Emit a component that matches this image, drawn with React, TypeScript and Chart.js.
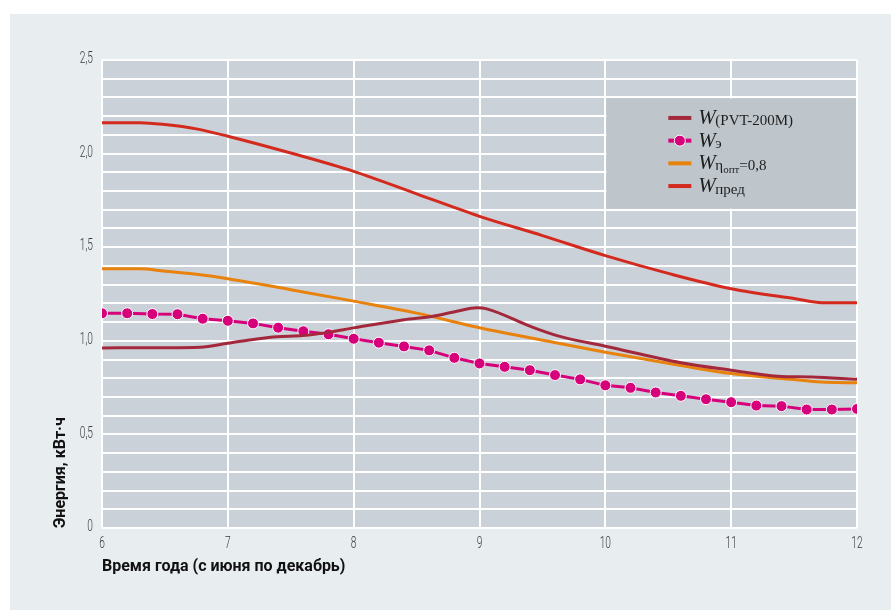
import React, { useEffect, useRef } from "react";
import { Chart, registerables } from "chart.js";

Chart.register(...registerables);

// ---- Data (months: 6 = June ... 12 = December), values in kWh ----
const wEMonths = [6, 6.2, 6.4, 6.6, 6.8, 7, 7.2, 7.4, 7.6, 7.8, 8, 8.2, 8.4, 8.6, 8.8, 9, 9.2, 9.4, 9.6, 9.8, 10, 10.2, 10.4, 10.6, 10.8, 11, 11.2, 11.4, 11.6, 11.8, 12];
const wEValues = [1.147, 1.147, 1.143, 1.142, 1.118, 1.107, 1.093, 1.070, 1.051, 1.035, 1.011, 0.990, 0.970, 0.949, 0.909, 0.879, 0.861, 0.843, 0.817, 0.794, 0.762, 0.749, 0.724, 0.706, 0.688, 0.672, 0.654, 0.651, 0.633, 0.633, 0.636];

const wPredMonths = [6, 6.3, 6.5, 6.75, 7, 7.5, 8, 8.5, 9, 9.5, 10, 10.5, 11, 11.5, 11.75, 12];
const wPredValues = [2.165, 2.165, 2.155, 2.132, 2.093, 2.003, 1.905, 1.785, 1.665, 1.562, 1.455, 1.36, 1.278, 1.226, 1.203, 1.203];

const wOptMonths = [6, 6.3, 6.5, 6.75, 7, 7.5, 8, 8.5, 9, 9.4, 10, 10.6, 11, 11.5, 11.75, 12];
const wOptValues = [1.385, 1.385, 1.372, 1.355, 1.332, 1.273, 1.212, 1.148, 1.07, 1.016, 0.939, 0.868, 0.825, 0.793, 0.778, 0.776];

const wPvtMonths = [6, 6.5, 6.78, 7, 7.23, 7.39, 7.6, 7.8, 8, 8.4, 8.63, 8.82, 8.98, 9.05, 9.4, 9.63, 10, 10.6, 11, 11.37, 11.64, 12];
const wPvtValues = [0.962, 0.963, 0.966, 0.987, 1.01, 1.022, 1.028, 1.045, 1.069, 1.113, 1.131, 1.158, 1.176, 1.172, 1.078, 1.025, 0.971, 0.883, 0.843, 0.811, 0.806, 0.795];

const xTickValues = [6, 7, 8, 9, 10, 11, 12];
const xTickLabels = ["6", "7", "8", "9", "10", "11", "12"];
const yTickValues = [0, 0.5, 1, 1.5, 2, 2.5];
const yTickLabels = ["0", "0,5", "1,0", "1,5", "2,0", "2,5"];

const xTitle = "Время года (с июня по декабрь)";
const yTitle = "Энергия, кВт·ч";

const COL_PVT = "#a3283b";
const COL_E = "#d6007a";
const COL_OPT = "#e8820c";
const COL_PRED = "#d42a1e";

const toPoints = (xs: number[], ys: number[]) => xs.map((x, i) => ({ x, y: ys[i] }));

const TICK_FONT = "Roboto, 'Noto Sans', sans-serif";
const TITLE_FONT = "Roboto, 'Noto Sans', sans-serif";
const SERIF = "'Liberation Serif', 'DejaVu Serif', serif";

// condensed tick label drawing (narrow face imitation)
const drawNarrow = (ctx: any, text: string, x: number, y: number, align: string) => {
  ctx.save();
  ctx.translate(x, y);
  ctx.scale(0.6, 1);
  ctx.textAlign = align;
  ctx.textBaseline = "middle";
  ctx.fillText(text, 0, 0);
  ctx.restore();
};

const bgPlugin = {
  id: "bgAndLegend",
  beforeDraw(chart: any) {
    const { ctx, chartArea: a } = chart;
    ctx.save();
    ctx.fillStyle = "#cad1d8";
    ctx.fillRect(a.left, a.top, a.right - a.left, a.bottom - a.top);
    ctx.restore();
  },
  beforeDatasetsDraw(chart: any) {
    const { ctx, scales } = chart;
    const L = scales.x.getPixelForValue(10) + 1;
    const R = scales.x.getPixelForValue(12) - 1;
    const T = scales.y.getPixelForValue(2.3) + 1;
    const B = scales.y.getPixelForValue(1.7) - 1;
    ctx.save();
    ctx.fillStyle = "#bec6cc";
    ctx.fillRect(L, T, R - L, B - T);
    ctx.restore();
  },
  afterDraw(chart: any) {
    const { ctx, scales, chartArea: a } = chart;
    // tick labels
    ctx.save();
    ctx.fillStyle = "#3c3c3c";
    ctx.font = `300 17px ${TICK_FONT}`;
    yTickValues.forEach((v, i) => {
      drawNarrow(ctx, yTickLabels[i], a.left - 9, scales.y.getPixelForValue(v) - 1, "right");
    });
    xTickValues.forEach((v, i) => {
      drawNarrow(ctx, xTickLabels[i], scales.x.getPixelForValue(v), a.bottom + 16, "center");
    });
    ctx.restore();

    // legend
    const L = scales.x.getPixelForValue(10) + 1;
    const T = scales.y.getPixelForValue(2.3) + 1;
    const rows = [T + 19.5, T + 42.2, T + 64.9, T + 87.6];
    const colors = [COL_PVT, COL_E, COL_OPT, COL_PRED];
    const lx0 = L + 62;
    const lx1 = L + 85;
    const wx = L + 92;
    const sx = L + 109;
    ctx.save();
    rows.forEach((cy, i) => {
      ctx.strokeStyle = colors[i];
      ctx.lineWidth = 4;
      ctx.beginPath();
      ctx.moveTo(lx0, cy);
      ctx.lineTo(lx1, cy);
      ctx.stroke();
      if (i === 1) {
        ctx.beginPath();
        ctx.arc((lx0 + lx1) / 2, cy, 5.5, 0, Math.PI * 2);
        ctx.fillStyle = COL_E;
        ctx.fill();
        ctx.lineWidth = 1;
        ctx.strokeStyle = "#ffffff";
        ctx.stroke();
      }
      ctx.fillStyle = "#1e1e1e";
      ctx.textBaseline = "alphabetic";
      ctx.textAlign = "left";
      ctx.font = `italic 21px ${SERIF}`;
      ctx.fillText("W", wx, cy + 6);
      ctx.font = `15px ${SERIF}`;
      if (i === 0) {
        ctx.fillText("(PVT-200M)", sx, cy + 7.5);
      } else if (i === 1) {
        ctx.fillText("э", sx, cy + 7.5);
      } else if (i === 2) {
        ctx.fillText("η", sx, cy + 7);
        const ew = ctx.measureText("η").width;
        ctx.font = `11px ${SERIF}`;
        ctx.fillText("опт", sx + ew, cy + 10);
        const ow = ctx.measureText("опт").width;
        ctx.font = `15px ${SERIF}`;
        ctx.fillText("=0,8", sx + ew + ow, cy + 7);
      } else {
        ctx.fillText("пред", sx, cy + 7.5);
      }
    });
    ctx.restore();
  },
};

export default function App() {
  const ref = useRef<HTMLCanvasElement | null>(null);

  useEffect(() => {
    if (!ref.current) return;
    const chart = new Chart(ref.current, {
      type: "line",
      data: {
        datasets: [
          {
            label: "W(PVT-200M)",
            data: toPoints(wPvtMonths, wPvtValues),
            borderColor: COL_PVT,
            borderWidth: 3,
            pointRadius: 0,
            cubicInterpolationMode: "monotone",
          },
          {
            label: "Wпред",
            data: toPoints(wPredMonths, wPredValues),
            borderColor: COL_PRED,
            borderWidth: 3,
            pointRadius: 0,
            cubicInterpolationMode: "monotone",
          },
          {
            label: "Wηопт=0,8",
            data: toPoints(wOptMonths, wOptValues),
            borderColor: COL_OPT,
            borderWidth: 3,
            pointRadius: 0,
            cubicInterpolationMode: "monotone",
          },
          {
            label: "Wэ",
            data: toPoints(wEMonths, wEValues),
            borderColor: COL_E,
            borderWidth: 3,
            pointRadius: 5.5,
            pointBackgroundColor: COL_E,
            pointBorderColor: "#ffffff",
            pointBorderWidth: 1,
            tension: 0,
          },
        ],
      } as any,
      options: {
        responsive: false,
        animation: false,
        layout: { padding: { top: 46, right: 34, left: 0, bottom: 0 } },
        plugins: { legend: { display: false }, tooltip: { enabled: false } },
        scales: {
          x: {
            type: "linear",
            min: 6,
            max: 12,
            afterFit: (s: any) => {
              s.height = 82;
            },
            afterBuildTicks: (s: any) => {
              s.ticks = xTickValues.map((v) => ({ value: v }));
            },
            ticks: { display: false },
            grid: { color: "#ffffff", lineWidth: 2, drawTicks: false },
            border: { display: false },
            title: {
              display: true,
              text: xTitle,
              align: "start",
              color: "#111111",
              font: { family: TITLE_FONT, size: 16, weight: "bold" },
              padding: { top: 0, bottom: 33 },
            },
          },
          y: {
            min: 0,
            max: 2.5,
            afterFit: (s: any) => {
              s.width = 92;
            },
            ticks: { stepSize: 0.1, autoSkip: false, display: false },
            grid: { color: "#ffffff", lineWidth: 2, drawTicks: false },
            border: { display: false },
            title: {
              display: true,
              text: yTitle,
              align: "start",
              color: "#111111",
              font: { family: TITLE_FONT, size: 16, weight: "bold" },
              padding: { top: 41, bottom: 0 },
            },
          },
        },
      } as any,
      plugins: [bgPlugin],
    });
    return () => chart.destroy();
  }, []);

  return (
    <div style={{ position: "fixed", left: 0, top: 0, width: 891, height: 610, background: "#ffffff" }}>
      <div style={{ position: "absolute", left: 10, top: 14, width: 881, height: 596, background: "#e8edf0" }}>
        <canvas ref={ref} width={881} height={596} style={{ display: "block" }} />
      </div>
    </div>
  );
}
